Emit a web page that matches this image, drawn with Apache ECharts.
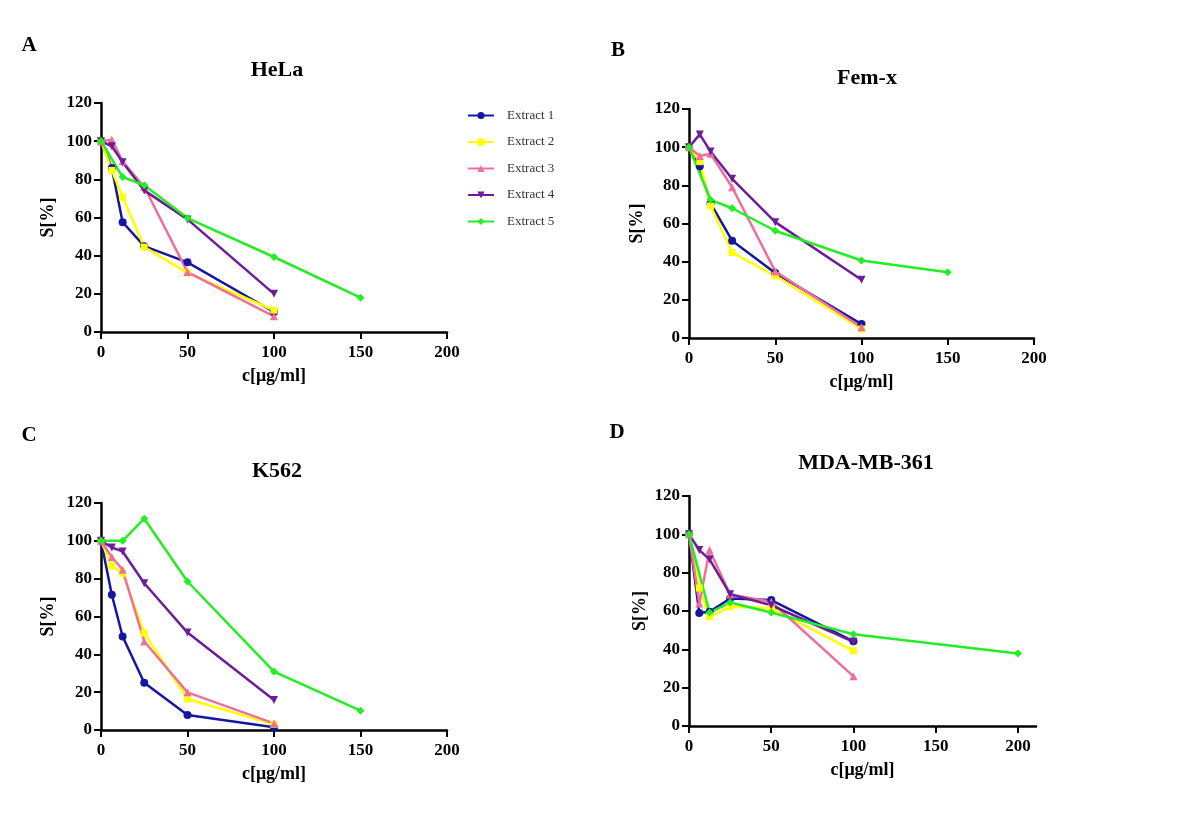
<!DOCTYPE html>
<html>
<head>
<meta charset="utf-8">
<script src="https://cdn.jsdelivr.net/npm/echarts@6/dist/echarts.min.js"></script>
<style>html,body{margin:0;padding:0;background:#fff}#c{width:1200px;height:831px}</style>
</head>
<body>
<div id="c"></div>
<script>
// ---- data ----
const panelTitles = ['HeLa', 'Fem-x', 'K562', 'MDA-MB-361'];
const panelLetters = ['A', 'B', 'C', 'D'];
const seriesNames = ['Extract 1', 'Extract 2', 'Extract 3', 'Extract 4', 'Extract 5'];
const xTicks = [0, 50, 100, 150, 200];

const conc = [0, 6.25, 12.5, 25, 50, 100];
const concExt5 = [0, 12.5, 25, 50, 100, 150];
const concExt5D = [0, 12.5, 25, 50, 100, 200];

const helaE1 = [100, 86, 57.5, 45, 36.5, 10.5];
const helaE2 = [100, 84.7, 70.7, 44.5, 31, 11.4];
const helaE3 = [100, 100.8, 89.5, 76, 31.4, 8.2];
const helaE4 = [100, 97.3, 89, 74.2, 59, 20];
const helaE5 = [100, 81.2, 76.9, 59.7, 39.3, 18];

const femxE1 = [100, 90, 70.5, 51, 34, 7.3];
const femxE2 = [100, 92.4, 69.2, 44.8, 32.6, 4.7];
const femxE3 = [100, 95.4, 96.5, 79, 34.9, 5.6];
const femxE4 = [100, 106.7, 97.7, 83.4, 60.7, 30.5];
const femxE5 = [100, 72.4, 68, 56.2, 40.6, 34.5];

const k562E1 = [100, 71.5, 49.4, 25, 7.9, 1.4];
const k562E2 = [100, 86.8, 82.9, 51.2, 16.4, 3];
const k562E3 = [100, 91.4, 84.7, 46.8, 19.9, 3.5];
const k562E4 = [100, 96.5, 94.4, 77.6, 51.5, 15.9];
const k562E5 = [100, 100, 111.7, 78.5, 30.9, 10.2];

const mdaE1 = [100, 59, 59.6, 66.5, 65.7, 44.2];
const mdaE2 = [100, 72, 57, 62.2, 61.5, 39.2];
const mdaE3 = [100, 63.9, 91.8, 68.6, 64.8, 25.9];
const mdaE4 = [100, 91.8, 86.9, 68.8, 63, 43.9];
const mdaE5 = [100, 59.2, 64.4, 59.2, 47.9, 37.8];

const panels = [
  { x: [conc, conc, conc, conc, concExt5], y: [helaE1, helaE2, helaE3, helaE4, helaE5] },
  { x: [conc, conc, conc, conc, concExt5], y: [femxE1, femxE2, femxE3, femxE4, femxE5] },
  { x: [conc, conc, conc, conc, concExt5], y: [k562E1, k562E2, k562E3, k562E4, k562E5] },
  { x: [conc, conc, conc, conc, concExt5D], y: [mdaE1, mdaE2, mdaE3, mdaE4, mdaE5] }
];

// ---- styling ----
const colors = ['#1616a3', '#ffff00', '#ee6f9c', '#6e1c9a', '#22ee22'];
const symbols = ['circle', 'rect', 'triangle', 'triangle', 'diamond'];
const symbolRot = [0, 0, 0, 180, 0];
const FONT = '"Liberation Serif", "DejaVu Serif", serif';

const grids = [
  { left: 101, top: 103, width: 346, height: 229 },
  { left: 689, top: 109, width: 345, height: 229 },
  { left: 101, top: 503, width: 346, height: 227 },
  { left: 689, top: 496, width: 347, height: 230 }
];
const xMax = [200, 200, 200, 211];
const yNameGap = [44, 43, 44, 40];
const titlePos = [[272, 54], [862, 62], [272, 455], [861, 447]];
const letterPos = [[29, 46], [618, 51], [29, 436], [617, 433]];

const axisLineStyle = { color: '#000', width: 2.5 };

const option = {
  backgroundColor: '#fff',
  animation: false,
  title: panelTitles.map((t, i) => ({
    text: t,
    left: titlePos[i][0],
    top: titlePos[i][1],
    textAlign: 'center',
    textStyle: { fontFamily: FONT, fontWeight: 'bold', fontSize: 22, color: '#000' }
  })),
  graphic: panelLetters.map((t, i) => ({
    type: 'text',
    x: letterPos[i][0],
    y: letterPos[i][1],
    style: { text: t, fontFamily: FONT, fontWeight: 'bold', fontSize: 21, fill: '#000', align: 'center', verticalAlign: 'middle' }
  })),
  legend: {
    data: seriesNames,
    orient: 'vertical',
    left: 462,
    top: 104,
    itemWidth: 26,
    itemHeight: 9,
    itemGap: 13.5,
    textStyle: { fontFamily: FONT, fontSize: 13, color: '#333', padding: [0, 0, 0, 8] },
    selectedMode: false
  },
  grid: grids,
  xAxis: grids.map((g, i) => ({
    type: 'value',
    gridIndex: i,
    min: 0,
    max: xMax[i],
    interval: 50,
    name: 'c[μg/ml]',
    nameLocation: 'middle',
    nameGap: 35,
    nameTextStyle: { fontFamily: FONT, fontWeight: 'bold', fontSize: 18, color: '#000' },
    axisLine: { onZero: false, lineStyle: axisLineStyle },
    axisTick: { show: true, length: 7, lineStyle: { color: '#000', width: 2 }, customValues: xTicks },
    axisLabel: { fontFamily: FONT, fontWeight: 'bold', fontSize: 17, color: '#000', margin: 12, customValues: xTicks },
    splitLine: { show: false }
  })),
  yAxis: grids.map((g, i) => ({
    type: 'value',
    gridIndex: i,
    min: 0,
    max: 120,
    interval: 20,
    name: 'S[%]',
    nameLocation: 'middle',
    nameRotate: 90,
    nameGap: yNameGap[i],
    nameTextStyle: { fontFamily: FONT, fontWeight: 'bold', fontSize: 18, color: '#000' },
    axisLine: { show: true, onZero: false, lineStyle: axisLineStyle },
    axisTick: { show: true, length: 7, lineStyle: { color: '#000', width: 2 } },
    axisLabel: { fontFamily: FONT, fontWeight: 'bold', fontSize: 17, color: '#000', margin: 9 },
    splitLine: { show: false }
  })),
  series: []
};

panels.forEach((p, pi) => {
  seriesNames.forEach((name, si) => {
    option.series.push({
      type: 'line',
      name: name,
      xAxisIndex: pi,
      yAxisIndex: pi,
      data: p.x[si].map((xv, k) => [xv, p.y[si][k]]),
      symbol: symbols[si],
      symbolRotate: symbolRot[si],
      symbolSize: si === 1 ? 7 : 8,
      showSymbol: true,
      lineStyle: { color: colors[si], width: 2.5 },
      itemStyle: { color: colors[si] },
      emphasis: { disabled: true }
    });
  });
});

const chart = echarts.init(document.getElementById('c'), null, { renderer: 'canvas' });
chart.setOption(option);
</script>
</body>
</html>
